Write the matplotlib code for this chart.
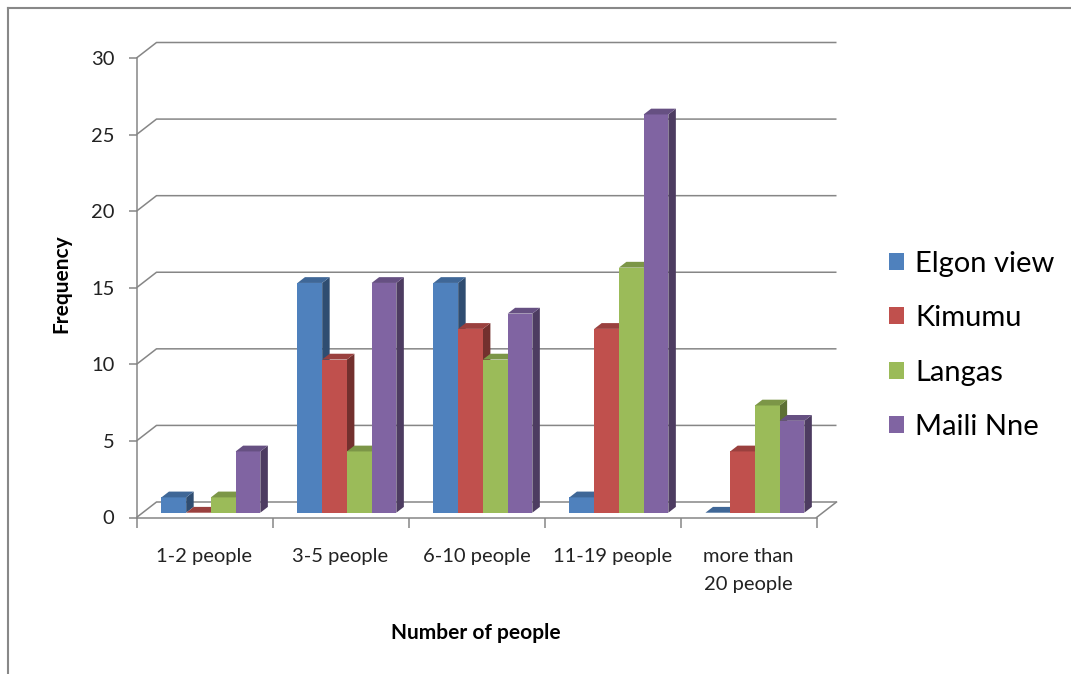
import matplotlib
matplotlib.use("Agg")
import matplotlib.pyplot as plt
from matplotlib.patches import Polygon
from matplotlib.lines import Line2D
import numpy as np

# ---- data -------------------------------------------------------------
categories = ["1-2 people", "3-5 people", "6-10 people", "11-19 people",
              "more than\n20 people"]
series_names = ["Elgon view", "Kimumu", "Langas", "Maili Nne"]
elgon_view = [1, 15, 15, 1, 0]
kimumu = [0, 10, 12, 12, 4]
langas = [1, 4, 10, 16, 7]
maili_nne = [4, 15, 13, 26, 6]
y_ticks = [0, 5, 10, 15, 20, 25, 30]

series_values = [elgon_view, kimumu, langas, maili_nne]
front_colors = ["#4F81BD", "#C0504D", "#9BBB59", "#8064A2"]

FONT = "Lato"

# ---- figure / axes geometry (pixels) ------------------------------------
W, H, DPI = 1071, 674, 100
fig = plt.figure(figsize=(W / DPI, H / DPI), dpi=DPI)
fig.patch.set_facecolor("white")

ax_left, ax_right = 136.5, 816.5
ax_bottom, ax_top = 517.5, 58.0
ax = fig.add_axes([ax_left / W, 1 - ax_bottom / H,
                   (ax_right - ax_left) / W, (ax_bottom - ax_top) / H])
ncat = len(categories)
ymax = 30
ax.set_xlim(0, ncat)
ax.set_ylim(0, ymax)

# pixel -> data conversions
sx = ncat / (ax_right - ax_left)
sy = ymax / (ax_bottom - ax_top)

grid_color = "#868686"

# back wall / side wall gridlines (oblique projection)
wall_dx, wall_dy = 20 * sx, 15.5 * sy
for v in y_ticks:
    ax.plot([0, wall_dx, ncat + wall_dx], [v, v + wall_dy, v + wall_dy],
            color=grid_color, lw=1.1, zorder=1, clip_on=False,
            solid_capstyle="butt")
# right edge of the floor
ax.plot([ncat, ncat + wall_dx], [0, wall_dy], color=grid_color, lw=1.1,
        zorder=1, clip_on=False)

# ---- bars -------------------------------------------------------------
nser = len(series_values)
gap = 1.5
bw = 1.0 / (nser + gap)
base_dx, base_dy = 6.4 * sx, 4.8 * sy      # bars sit a little back on the floor
dep_dx, dep_dy = 7.5 * sx, 5.8 * sy        # bar depth


def shade(hex_color, f):
    c = np.array(matplotlib.colors.to_rgb(hex_color))
    return tuple(c * f)


handles = []
x_idx = np.arange(ncat)
for ci in range(ncat):
    for si in range(nser):
        v = series_values[si][ci]
        x0 = x_idx[ci] + gap * bw / 2 + si * bw + base_dx
        col = front_colors[si]
        b = ax.bar(x0, v, bw, bottom=base_dy, align="edge", color=col,
                   edgecolor="none", zorder=3 + ci * 10 + si * 2,
                   clip_on=False)
        if ci == 0:
            handles.append(b)
        top = [(x0, base_dy + v), (x0 + bw, base_dy + v),
               (x0 + bw + dep_dx, base_dy + v + dep_dy),
               (x0 + dep_dx, base_dy + v + dep_dy)]
        side = [(x0 + bw, base_dy), (x0 + bw + dep_dx, base_dy + dep_dy),
                (x0 + bw + dep_dx, base_dy + v + dep_dy),
                (x0 + bw, base_dy + v)]
        ax.add_patch(Polygon(top, closed=True, facecolor=shade(col, 0.8),
                             edgecolor="none", zorder=3 + ci * 10 + si * 2,
                             clip_on=False))
        ax.add_patch(Polygon(side, closed=True, facecolor=shade(col, 0.6),
                             edgecolor="none", zorder=3 + ci * 10 + si * 2 - 0.5,
                             clip_on=False))

# ---- axes styling -----------------------------------------------------
for s in ["top", "right"]:
    ax.spines[s].set_visible(False)
for s in ["left", "bottom"]:
    ax.spines[s].set_color(grid_color)
    ax.spines[s].set_linewidth(1.1)
ax.patch.set_alpha(0)

ax.set_yticks(y_ticks)
ax.set_yticklabels([str(t) for t in y_ticks], fontsize=14.5, family=FONT,
                   color="#222222")
ax.tick_params(axis="y", length=6, width=1.1, color=grid_color, pad=10)

ax.set_xticks(np.arange(ncat + 1))
ax.set_xticklabels([])
ax.set_xticks(x_idx + 0.5, minor=True)
ax.set_xticklabels(categories, minor=True, fontsize=14.5, family=FONT,
                   color="#222222", linespacing=1.75)
ax.tick_params(axis="x", which="major", length=7, width=1.1,
               color=grid_color)
ax.tick_params(axis="x", which="minor", length=0, pad=22)

fig.text(61 / W, 1 - 284 / H, "Frequency", rotation=90, ha="center",
         va="center", fontsize=15, fontweight="bold", family=FONT)
fig.text(476 / W, 1 - 633 / H, "Number of people", ha="center",
         va="center", fontsize=15, fontweight="bold", family=FONT)

# legend
leg = fig.legend(handles, series_names, loc="upper left",
                 bbox_to_anchor=(889 / W, 1 - 251 / H), frameon=False,
                 prop={"family": FONT, "size": 21}, handlelength=0.52,
                 handleheight=0.52, handletextpad=0.38, labelspacing=0.97,
                 borderaxespad=0, borderpad=0)

# chart border (top and left edges)
fig.add_artist(Line2D([8 / W, 8 / W], [0, 1 - 8 / H], color="#888888",
                      lw=1.5, transform=fig.transFigure))
fig.add_artist(Line2D([8 / W, 1], [1 - 8 / H, 1 - 8 / H], color="#888888",
                      lw=1.5, transform=fig.transFigure))

fig.savefig("out.png", dpi=DPI)
